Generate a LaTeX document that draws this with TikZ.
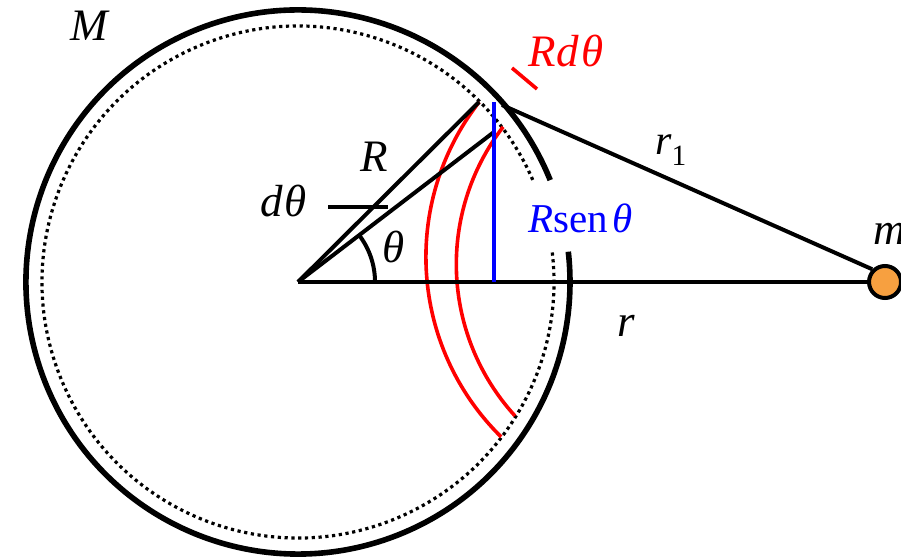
\documentclass[tikz,border=0pt]{standalone}
\usepackage{fontspec}
\setmainfont{Liberation Serif}
\usetikzlibrary{calc}
\begin{document}
\begin{tikzpicture}[x=1pt,y=1pt,
  thick line/.style={line width=4pt},
  ring/.style={line width=5.6pt},
  dotring/.style={line width=3.2pt,dash pattern=on 3.2pt off 3.6pt},
  redline/.style={line width=3.6pt,red},
  lbl/.style={inner sep=0pt,anchor=base west,font=\fontsize{45}{50}\selectfont\itshape}]
\clip (0,0) rectangle (901,559);
\useasboundingbox (0,0) rectangle (901,559);
\coordinate (O) at (298,277);
\coordinate (Q) at (502,454);
\coordinate (P1) at (479,457);
\coordinate (P2) at (494,427);
\coordinate (B1) at (494,457);
\coordinate (B0) at (494,277);
\coordinate (T1) at (328,352);
\coordinate (T2) at (388,352);
\coordinate (S1) at (512,491);
\coordinate (S2) at (537,470);
% sphere outlines
\draw[ring] ($(O)+(22:272)$) arc[start angle=22,end angle=366.4,radius=272];
\draw[dotring] ($(O)+(23.5:256)$) arc[start angle=23.5,end angle=366.7,radius=256];
% red rings
\draw[redline] (678.4,301.9) ++(142.1:252.5) arc[start angle=142.1,end angle=225.4,radius=252.5];
\draw[redline] (681.5,294.7) ++(142.4:225.2) arc[start angle=142.4,end angle=222.3,radius=225.2];
% lines
\node[circle,draw,line width=4pt,fill={rgb,255:red,247;green,160;blue,64},minimum size=32pt,inner sep=0pt] (m) at (885,277) {};
\draw[thick line] (O) -- (m.west);
\draw[thick line] (O) -- (P1);
\draw[thick line] (O) -- (P2);
\draw[thick line] (Q) -- (m.north west);
\draw[line width=4.4pt,blue] (B0) -- (B1);
\draw[thick line] (T1) -- (T2);
\draw[redline] (S1) -- (S2);
\draw[thick line] ($(O)+(77,0)$) arc[start angle=0,end angle=37.5,radius=77];
% labels
\node[lbl] (lM) at (70,518) {M};
\node[lbl] (lR) at (360,387) {R};
\node[lbl] (ldt) at (260,342) {d\hspace{2pt}θ};
\node[lbl] (lt) at (382,296) {θ};
\node[lbl,red] (lRdt) at (528,492) {R\hspace{1pt}d\hspace{2pt}θ};
\node[lbl,font=\fontsize{42}{46}\selectfont\itshape] (lr1) at (655,404) {r\textsubscript{\upshape 1}};
\node[lbl,blue,font=\fontsize{41}{46}\selectfont] (lRs) at (528,326) {\textit{R}sen\hspace{5pt}\textit{θ}};
\node[lbl] (lr) at (617,222) {r};
\node[lbl] (lm) at (873,314) {m};
\end{tikzpicture}
\end{document}
